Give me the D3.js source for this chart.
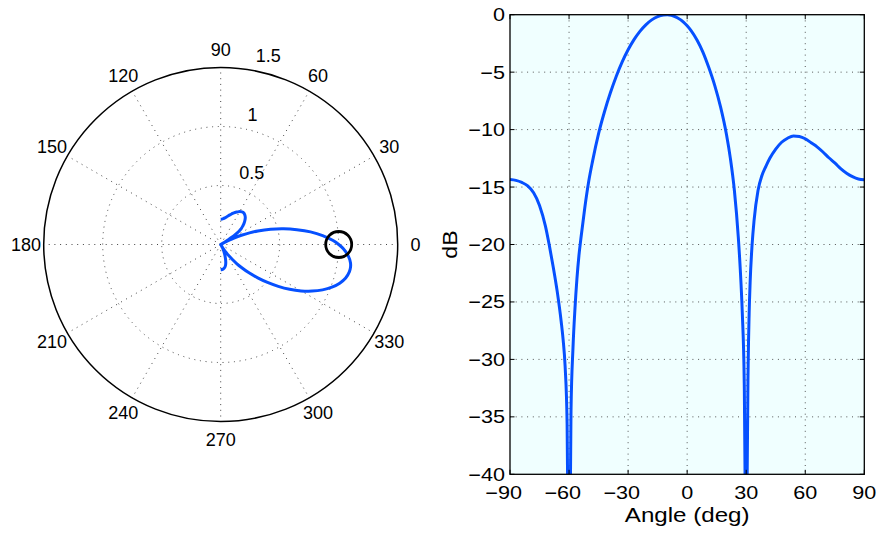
<!DOCTYPE html>
<html><head><meta charset="utf-8">
<script src="https://cdn.jsdelivr.net/npm/d3@7"></script>
<style>
html,body{margin:0;padding:0;background:#fff;}
svg{display:block;}
text{font-family:"Liberation Sans",Arial,Helvetica,sans-serif;fill:#000;}
</style></head><body>
<svg id="chart" width="880" height="534"></svg>
<script>
// ---- data ----
const angles = [-90,-87,-84,-81,-78,-75,-72,-70,-68,-66,-64,-63,-62,-61,-60.5,-60,-59.5,-59,-58,-57,
  -56,-55,-54,-52,-50,-48,-45,-42,-39,-36,-33,-30,-27,-24,-21,-18,-15,-12,-10,-8,
  -5,-2,0,2,5,8,11,14,17,20,22,24,26,27,28,29,29.5,30,30.5,31,
  31.5,32,33,34,36,38,40,42,45,48,51,54,57,60,63,66,69,72,75,78,81,84,87,90];
const gainDb = [-14.35,-14.42,-14.6,-14.9,-15.5,-16.6,-18.4,-20.1,-22.0,-24.1,
  -26.7,-28.3,-30.6,-35.5,-45,-80,-45,-34.5,-29.0,-25.6,
  -23.0,-21.0,-19.5,-16.8,-14.5,-12.7,-10.35,-8.45,-6.8,-5.35,
  -4.1,-3.05,-2.17,-1.45,-0.88,-0.45,-0.16,-0.02,0,-0.05,
  -0.26,-0.62,-0.96,-1.38,-2.2,-3.25,-4.6,-6.15,-8.05,-10.45,
  -12.55,-15.3,-19.4,-22.2,-25.9,-32.0,-42,-80,-40,-30.5,
  -26.0,-23.3,-20.0,-17.9,-15.3,-14.0,-13.2,-12.5,-11.7,-11.1,
  -10.75,-10.55,-10.6,-10.8,-11.15,-11.5,-11.95,-12.45,-12.9,-13.4,
  -13.8,-14.1,-14.3,-14.36];
const peakGain = 1.117;               // linear peak shown in the polar plot
const markerAngle = [0];
const markerRadius = [1];
const dbTicks = [0,-5,-10,-15,-20,-25,-30,-35,-40];
const angleTicks = [-90,-60,-30,0,30,60,90];
const polarSpokes = [0,30,60,90,120,150,180,210,240,270,300,330];
const polarRings = [0.5,1,1.5];
const polarRingLabels = ["0.5","1","1.5"];
const xLabel = "Angle (deg)";
const yLabel = "dB";

const BLUE = "#0650ff";
const DOT = "1,4.7";
const svg = d3.select("#chart");
const rad = d => d*Math.PI/180;
const pts = angles.map((a,i)=>({theta:a, db:gainDb[i], r: peakGain*Math.pow(10, gainDb[i]/20)}));

// ================= polar plot =================
const cx = 220.7, cy = 244.5;
const rScale = d3.scaleLinear().domain([0,1.5]).range([0,177]);
const pol = svg.append("g").attr("transform",`translate(${cx},${cy})`);

pol.selectAll("circle.ring").data(polarRings.slice(0,-1)).join("circle")
  .attr("class","ring").attr("r", d=>rScale(d))
  .attr("fill","none").attr("stroke","#444").attr("stroke-width",1).attr("stroke-dasharray",DOT);
pol.selectAll("line.spoke").data(polarSpokes).join("line")
  .attr("class","spoke")
  .attr("x1",0).attr("y1",0)
  .attr("x2",d=>rScale(1.5)*Math.cos(rad(d)))
  .attr("y2",d=>-rScale(1.5)*Math.sin(rad(d)))
  .attr("stroke","#444").attr("stroke-width",1).attr("stroke-dasharray",DOT);
pol.append("circle").attr("r", rScale(1.5)).attr("fill","none").attr("stroke","#000").attr("stroke-width",1.5);

pol.selectAll("text.ang").data(polarSpokes).join("text")
  .attr("class","ang")
  .attr("x",d=>rScale(1.65)*Math.cos(rad(d)))
  .attr("y",d=>-rScale(1.65)*Math.sin(rad(d)))
  .attr("dy","0.35em").attr("text-anchor","middle").attr("font-size",18)
  .text(d=>d);
pol.selectAll("text.rl").data(polarRings).join("text")
  .attr("class","rl")
  .attr("x",d=>rScale(d+0.025)*Math.cos(rad(82))+10)
  .attr("y",d=>-rScale(d+0.025)*Math.sin(rad(82))-3.9)
  .attr("font-size",18)
  .text((d,i)=>polarRingLabels[i]);

const radial = d3.lineRadial()
  .angle(d => Math.PI/2 - rad(d.theta))
  .radius(d => rScale(d.r))
  .curve(d3.curveCatmullRom);
pol.append("path").datum(pts).attr("d", radial)
  .attr("fill","none").attr("stroke",BLUE).attr("stroke-width",3).attr("stroke-linejoin","round");

pol.selectAll("circle.mk").data(markerAngle).join("circle")
  .attr("class","mk")
  .attr("cx",(d,i)=>rScale(markerRadius[i])*Math.cos(rad(d)))
  .attr("cy",(d,i)=>-rScale(markerRadius[i])*Math.sin(rad(d)))
  .attr("r",13).attr("fill","none").attr("stroke","#000").attr("stroke-width",2.8);

// ================= dB plot =================
const L=510, R=864.3, T=14.7, B=474.3;
const x = d3.scaleLinear().domain([-90,90]).range([L,R]);
const y = d3.scaleLinear().domain([-40,0]).range([B,T]);
const g = svg.append("g");
g.append("rect").attr("x",L).attr("y",T).attr("width",R-L).attr("height",B-T).attr("fill","#f0ffff");
svg.append("clipPath").attr("id","clip").append("rect").attr("x",L).attr("y",T).attr("width",R-L).attr("height",B-T);

g.selectAll("line.gx").data(angleTicks.slice(1,-1)).join("line")
  .attr("x1",d=>x(d)).attr("x2",d=>x(d)).attr("y1",T).attr("y2",B)
  .attr("stroke","#555").attr("stroke-width",1).attr("stroke-dasharray",DOT);
g.selectAll("line.gy").data(dbTicks.slice(1,-1)).join("line")
  .attr("y1",d=>y(d)).attr("y2",d=>y(d)).attr("x1",L).attr("x2",R)
  .attr("stroke","#555").attr("stroke-width",1).attr("stroke-dasharray",DOT);

const line = d3.line().x(d=>x(d.theta)).y(d=>y(d.db)).curve(d3.curveMonotoneX);
g.append("path").datum(pts).attr("d",line).attr("clip-path","url(#clip)")
  .attr("fill","none").attr("stroke",BLUE).attr("stroke-width",3).attr("stroke-linejoin","round");

g.append("rect").attr("x",L).attr("y",T).attr("width",R-L).attr("height",B-T)
  .attr("fill","none").attr("stroke","#000").attr("stroke-width",1.3);
const TL = 4.5;
angleTicks.forEach(d=>{
  g.append("line").attr("x1",x(d)).attr("x2",x(d)).attr("y1",B).attr("y2",B-TL).attr("stroke","#000");
  g.append("line").attr("x1",x(d)).attr("x2",x(d)).attr("y1",T).attr("y2",T+TL).attr("stroke","#000");
});
dbTicks.forEach(d=>{
  g.append("line").attr("y1",y(d)).attr("y2",y(d)).attr("x1",L).attr("x2",L+TL).attr("stroke","#000");
  g.append("line").attr("y1",y(d)).attr("y2",y(d)).attr("x1",R).attr("x2",R-TL).attr("stroke","#000");
});

const fmt = v => (v<0 ? "\u2212" : "") + Math.abs(v);
const measure = (s,fs) => { const t = svg.append("text").attr("font-size",fs).text(s); const w = t.node().getComputedTextLength(); t.remove(); return w; };
const SX = 1.2, FS = 18;
dbTicks.forEach(d=>{
  g.append("text").attr("transform",`translate(505,${y(d)+6.5}) scale(${SX},1)`)
   .attr("text-anchor","end").attr("font-size",FS).text(fmt(d));
});
angleTicks.forEach(d=>{
  const dw = measure(String(Math.abs(d)),FS);
  const mw = d<0 ? measure("\u2212",FS) : 0;
  g.append("text").attr("transform",`translate(${x(d)},498.5) scale(${SX},1)`)
   .attr("x",-dw/2-mw).attr("text-anchor","start").attr("font-size",FS).text(fmt(d));
});
g.append("text").attr("transform",`translate(${(L+R)/2},521.5) scale(1.15,1)`)
  .attr("text-anchor","middle").attr("font-size",21).text(xLabel);
g.append("text").attr("transform",`translate(457,${(T+B)/2}) rotate(-90) scale(1.1,1)`)
  .attr("text-anchor","middle").attr("font-size",21).text(yLabel);
</script>
</body></html>
